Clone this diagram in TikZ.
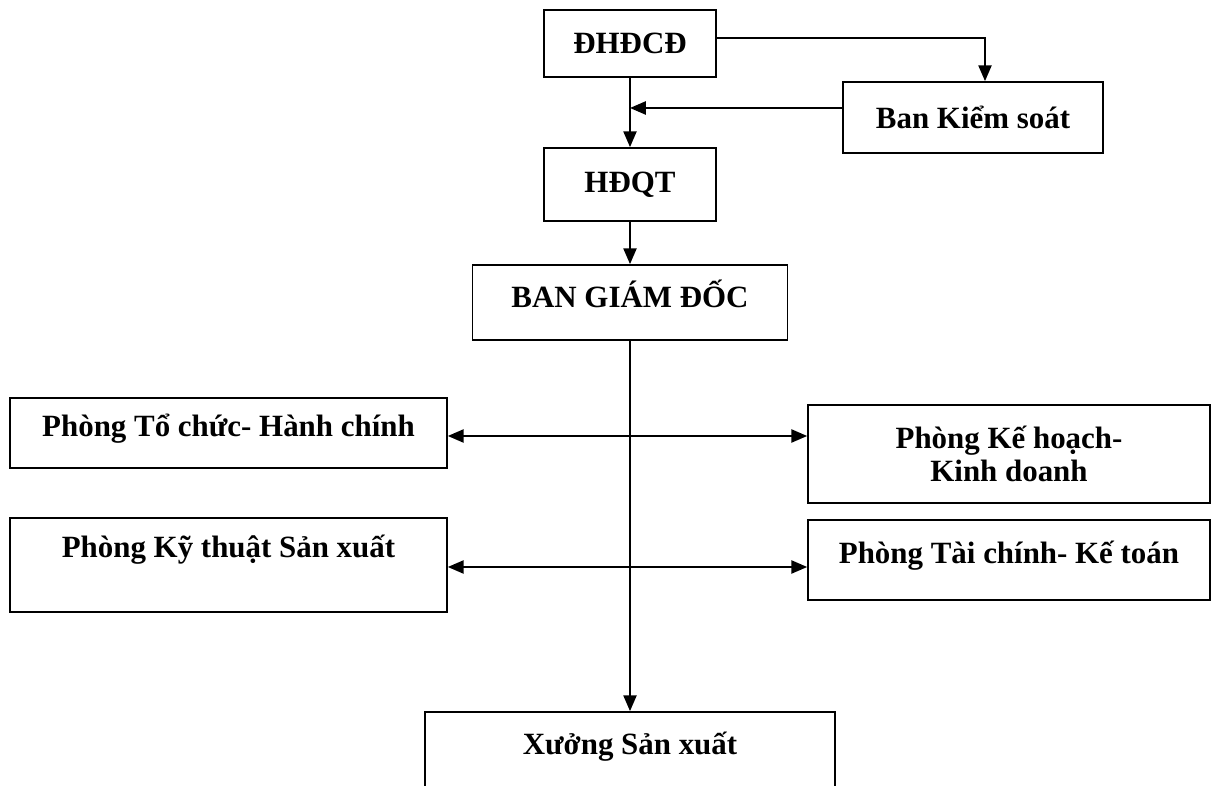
\documentclass[tikz,border=0pt]{standalone}
\usepackage{fontspec}
\setmainfont{Liberation Serif}
\usetikzlibrary{arrows.meta}

\begin{document}
\begin{tikzpicture}[x=0.02cm, y=-0.02cm, line width=1pt,
        >={Triangle[length=9pt, width=7.5pt]},
        box/.style={draw, inner sep=0pt, align=center, font=\fontsize{17.6}{19}\selectfont\bfseries}]

        \useasboundingbox (0, 0) rectangle (1214, 786);

        % top of the chart
        \node[box, minimum width=3.44cm, minimum height=1.34cm] (dhdcd) at (630, 43.5) {ĐHĐCĐ};
        \node[box, minimum width=5.2cm, minimum height=1.42cm] (bks) at (973, 117.5) {Ban Kiểm soát};
        \node[box, minimum width=3.44cm, minimum height=1.46cm] (hdqt) at (630, 184.5) {HĐQT};
        \node[box, minimum width=6.3cm, minimum height=1.5cm, text height=12.5pt, text depth=7pt] (bgd) at (630, 302.5) {BAN GIÁM ĐỐC};

        % departments
        \node[box, minimum width=8.74cm, minimum height=1.4cm, text height=12.5pt, text depth=8pt] (tchc) at (228.5, 433) {Phòng Tổ chức- Hành chính};
        \node[box, minimum width=8.04cm, minimum height=1.96cm, text depth=0pt] (khkd) at (1009, 454) {Phòng Kế hoạch-\\Kinh doanh};
        \node[box, minimum width=8.74cm, minimum height=1.88cm, text height=12.5pt, text depth=21pt] (ktsx) at (228.5, 565) {Phòng Kỹ thuật Sản xuất};
        \node[box, minimum width=8.04cm, minimum height=1.6cm, text height=12.5pt, text depth=9pt] (tckt) at (1009, 560) {Phòng Tài chính- Kế toán};
        \node[box, minimum width=8.2cm, minimum height=1.56cm, text height=12.5pt, text depth=9pt] (xsx) at (630, 751) {Xưởng Sản xuất};

        \coordinate (ksturn) at (985, 38);
        \coordinate (ksjoin) at (630, 108);
        \coordinate (row1) at (630, 436);
        \coordinate (row2) at (630, 567);

        \draw[->] (ksturn -| dhdcd.east) -- (ksturn) -- (ksturn |- bks.north);
        \draw[->] (ksjoin -| bks.west) -- (ksjoin);
        \draw[->] (dhdcd) -- (hdqt);
        \draw[->] (hdqt) -- (bgd);
        \draw[->] (bgd) -- (xsx);

        \draw[<->] (row1 -| tchc.east) -- (row1 -| khkd.west);
        \draw[<->] (row2 -| ktsx.east) -- (row2 -| tckt.west);
    \end{tikzpicture}
\end{document}
